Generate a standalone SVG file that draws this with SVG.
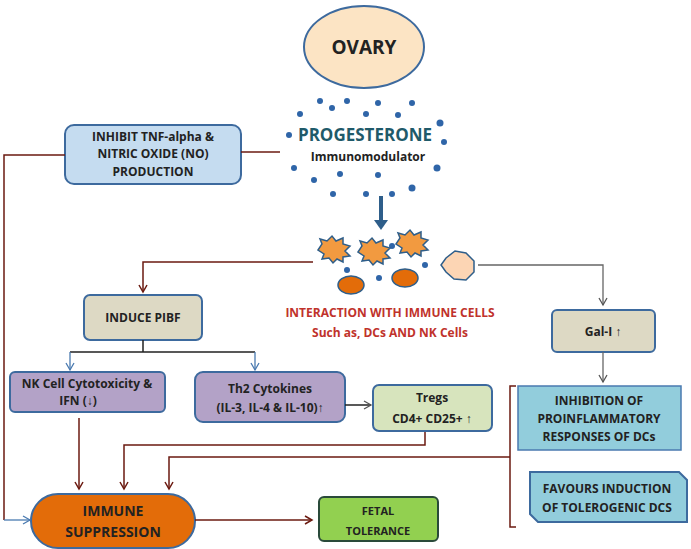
<svg xmlns="http://www.w3.org/2000/svg" width="691" height="549" viewBox="0 0 691 549">
<defs>
<style>
text{font-family:"Open Sans","Liberation Sans",sans-serif;font-weight:bold;text-anchor:middle;fill:#222}
.ln{fill:none;stroke:#6b1a10;stroke-width:1.5}
.lg{fill:none;stroke:#666;stroke-width:1.3}
.lb{fill:none;stroke:#4a7ab0;stroke-width:1.3}
.box{stroke:#3d6a9e;stroke-width:2}
.dot{fill:#2f65a8}
</style>
<marker id="a" markerWidth="10" markerHeight="10" refX="8" refY="5" orient="auto" markerUnits="userSpaceOnUse"><path d="M1,1 L8,5 L1,9" fill="none" stroke="#6b1a10" stroke-width="1.5"/></marker>
<marker id="ag" markerWidth="10" markerHeight="10" refX="8" refY="5" orient="auto" markerUnits="userSpaceOnUse"><path d="M1,1 L8,5 L1,9" fill="none" stroke="#555" stroke-width="1.3"/></marker>
<marker id="ab" markerWidth="10" markerHeight="10" refX="8" refY="5" orient="auto" markerUnits="userSpaceOnUse"><path d="M1,1 L8,5 L1,9" fill="none" stroke="#4a7ab0" stroke-width="1.3"/></marker>
</defs>
<rect width="691" height="549" fill="#fff"/>
<g id="ovary"><ellipse cx="364" cy="47" rx="60" ry="41" fill="#fce4c4" stroke="#3d6a9e" stroke-width="2"/><text x="364" y="54" font-size="19" fill="#222">OVARY</text></g>
<g id="progesterone">
<g class="dot">
<circle cx="320" cy="101" r="3"/><circle cx="347" cy="101" r="3"/><circle cx="378" cy="103" r="3"/><circle cx="412" cy="103" r="3"/><circle cx="332" cy="108" r="3"/><circle cx="366" cy="114" r="3"/><circle cx="398" cy="115" r="3"/><circle cx="300" cy="114" r="3"/><circle cx="440" cy="123" r="3.5"/><circle cx="289" cy="135" r="3"/><circle cx="444" cy="142" r="3"/><circle cx="294" cy="168" r="3"/><circle cx="437" cy="168" r="3.5"/><circle cx="340" cy="174" r="3"/><circle cx="378" cy="175" r="3"/><circle cx="314" cy="180" r="3"/><circle cx="412" cy="188" r="3.5"/><circle cx="333" cy="194" r="3"/><circle cx="366" cy="194" r="3"/><circle cx="392" cy="194" r="3"/><circle cx="392" cy="246" r="3"/><circle cx="347" cy="270" r="3"/><circle cx="379" cy="278" r="3"/><circle cx="425" cy="265" r="3"/>
</g>
<text x="365" y="141" font-size="17" fill="#1f5a6a" style="fill:#1f5a6a">PROGESTERONE</text>
<text x="368" y="161" font-size="12">Immunomodulator</text>
</g>
<g id="cells">
<path d="M381,196 V222" stroke="#2e5e8a" stroke-width="4"/><path d="M374,220 L381,230 L388,220 Z" fill="#2e5e8a"/>
<polygon points="318,250 322,244 320,239 327,241 332,236 336,241 343,238 343,244 350,246 345,251 350,256 343,257 343,262 337,259 333,263 329,258 322,259 324,254" fill="#f29a40" stroke="#2e5e8a" stroke-width="1.5"/>
<polygon points="358,252 362,246 360,241 367,243 372,238 376,243 383,240 383,246 390,248 385,253 390,258 383,259 383,264 377,261 373,265 369,260 362,261 364,256" fill="#f29a40" stroke="#2e5e8a" stroke-width="1.5"/>
<polygon points="396,244 400,238 398,233 405,235 410,230 414,235 421,232 421,238 428,240 423,245 428,250 421,251 421,256 415,253 411,257 407,252 400,253 402,248" fill="#f29a40" stroke="#2e5e8a" stroke-width="1.5"/>
<ellipse cx="351" cy="285" rx="13" ry="9" fill="#e36c09" stroke="#2e5e8a" stroke-width="1.5"/>
<ellipse cx="405" cy="278" rx="13" ry="9" fill="#e36c09" stroke="#2e5e8a" stroke-width="1.5"/>
<path d="M446,258 L455,251 L466,253 L474,261 L474,272 L466,280 L454,279 L446,272 L441,265 Z" fill="#fcd5b4" stroke="#2e5e8a" stroke-width="1.5"/>
<text x="390" y="317" font-size="12" style="fill:#c0322b">INTERACTION WITH IMMUNE CELLS</text>
<text x="390" y="337" font-size="12" style="fill:#c0322b">Such as, DCs AND NK Cells</text>
</g>
<g id="inhibit-tnf"><rect x="65" y="125" width="176" height="59" rx="9" fill="#c5dcf0" class="box"/><text x="153" y="141" font-size="12">INHIBIT TNF-alpha &amp;</text><text x="153" y="158" font-size="12">NITRIC OXIDE (NO)</text><text x="153" y="176" font-size="12">PRODUCTION</text></g>
<g id="induce-pibf"><rect x="84" y="295" width="118" height="45" rx="6" fill="#ddd9c4" class="box"/><text x="143" y="322" font-size="12">INDUCE PIBF</text></g>
<g id="nk"><rect x="10" y="372" width="155" height="40" rx="5" fill="#b3a2c7" class="box"/><text x="87" y="388" font-size="12">NK Cell Cytotoxicity &amp;</text><text x="78" y="405" font-size="12">IFN   (↓)</text></g>
<g id="th2"><rect x="195" y="372" width="150" height="50" rx="8" fill="#b3a2c7" class="box"/><text x="270" y="393" font-size="12">Th2 Cytokines</text><text x="270" y="412" font-size="12">(IL-3, IL-4 &amp; IL-10)↑</text></g>
<g id="tregs"><rect x="373" y="385" width="119" height="46" rx="6" fill="#d7e4bd" class="box"/><text x="432" y="402" font-size="12">Tregs</text><text x="432" y="423" font-size="12">CD4+ CD25+ ↑</text></g>
<g id="immune-suppression"><rect x="31" y="494" width="164" height="54" rx="27" fill="#e36c09" class="box"/><text x="113" y="516" font-size="14">IMMUNE</text><text x="113" y="537" font-size="14">SUPPRESSION</text></g>
<g id="fetal"><rect x="319" y="497" width="119" height="44" rx="5" fill="#92d050" class="box" style="stroke:#2a4a3a"/><text x="378" y="515" font-size="11">FETAL</text><text x="378" y="535" font-size="11">TOLERANCE</text></g>
<g id="gal"><rect x="552" y="310" width="103" height="42" rx="5" fill="#ddd9c4" class="box"/><text x="603" y="336" font-size="12">Gal-I ↑</text></g>
<g id="inhibition"><rect x="518" y="386" width="163" height="64" fill="#92cddc" stroke="#4a7ab0" stroke-width="1.5"/><text x="599" y="405" font-size="12">INHIBITION OF</text><text x="599" y="423" font-size="12">PROINFLAMMATORY</text><text x="599" y="441" font-size="12">RESPONSES OF DCs</text></g>
<g id="favours"><path d="M530,472 H679 L687,480 V522 H538 L530,514 Z" fill="#92cddc" class="box"/><text x="607" y="493" font-size="12">FAVOURS INDUCTION</text><text x="607" y="512" font-size="12">OF TOLEROGENIC DCS</text></g>
<g id="connectors">
<path class="ln" d="M241,152 H280"/>
<path class="ln" d="M65,155 H4 V520"/>
<path class="lb" d="M4,520 H30" marker-end="url(#ab)"/>
<path class="ln" d="M313,262 H143 V292" marker-end="url(#a)"/>
<path d="M143,340 V352 M70,352 H255" fill="none" stroke="#222" stroke-width="1.5"/>
<path class="lb" d="M70,352 V370" marker-end="url(#ab)"/>
<path class="lb" d="M255,352 V370" marker-end="url(#ab)"/>
<path d="M345,405 H371" fill="none" stroke="#222" stroke-width="1.5" marker-end="url(#ag)"/>
<path class="ln" d="M79,418 V489" marker-end="url(#a)"/>
<path class="ln" d="M425,432 V445 H124 V489" marker-end="url(#a)"/>
<path class="ln" d="M510,457 H169 V489" marker-end="url(#a)"/>
<path class="ln" d="M195,520 H312" marker-end="url(#a)"/>
<path class="ln" d="M516,386 H510 V527 H516"/>
<path class="lg" d="M478,265 H603 V305" marker-end="url(#ag)"/>
<path class="lg" d="M603,352 V382" marker-end="url(#ag)"/>
</g>
</svg>
